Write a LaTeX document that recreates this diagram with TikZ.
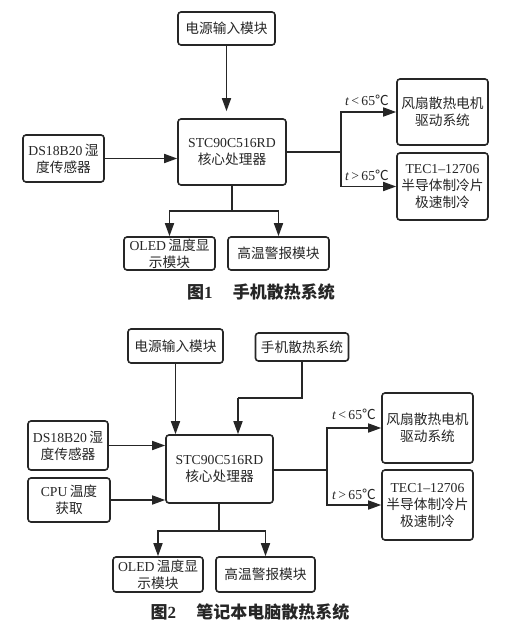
\documentclass[tikz,border=0pt]{standalone}
\usepackage{fontspec}
\setmainfont{Noto Sans CJK SC}
\newfontfamily\lat{Liberation Serif}
\usetikzlibrary{arrows.meta}
\newcommand\lt[1]{{\lat #1}}
\newcommand\tlabel[1]{{\lat\itshape t\/\upshape\,#1\,65}℃}
\definecolor{ink}{HTML}{262626}
\tikzset{
  box/.style={draw=ink, line width=1.6pt, rounded corners=3pt, inner sep=1pt,
    align=center, text=ink, font=\fontsize{13.7}{17}\selectfont},
  arr/.style={draw=ink, line width=1.6pt, -{Triangle[length=13pt,width=9pt]}},
  ln/.style={draw=ink, line width=1.6pt},
  lbl/.style={text=ink, font=\fontsize{13.7}{17}\selectfont, inner sep=0pt},
  captxt/.style={text=ink, font=\fontsize{17}{20}\selectfont\bfseries, inner sep=0pt}
}
\begin{document}
\begin{tikzpicture}[x=1pt,y=-1pt]
\useasboundingbox[fill=white] (0,0) rectangle (512,624);
% ---------- Figure 1 ----------
\node[box, minimum width=97pt, minimum height=33pt] (pw1) at (226.5,28.5) {电源输入模块};
\node[box, minimum width=108pt, minimum height=66pt] (core1) at (232,152) {\lt{STC90C516RD}\\核心处理器};
\node[box, minimum width=81pt, minimum height=47pt] (ds1) at (63.5,158.5) {\lt{DS18B20\,}湿\\度传感器};
\node[box, minimum width=91pt, minimum height=66pt] (fan1) at (442.5,112) {风扇散热电机\\驱动系统};
\node[box, minimum width=91pt, minimum height=67pt] (tec1) at (442.5,186.5) {\lt{TEC1–12706}\\半导体制冷片\\极速制冷};
\node[box, minimum width=91pt, minimum height=33pt] (oled1) at (169.5,253.5) {\lt{OLED\,}温度显\\示模块};
\node[box, minimum width=101pt, minimum height=33pt] (al1) at (278.5,253.5) {高温警报模块};
\coordinate (j1) at (341,152);
\coordinate (j2) at (232,211);
\draw[arr, shorten >=7pt] (pw1.south) -- (pw1.south |- core1.north);
\draw[arr] (ds1.east) -- (ds1.east -| core1.west);
\draw[ln] (core1.east) -- (j1);
\draw[arr] (j1) |- (fan1.west);
\draw[arr] (j1) |- (tec1.west);
\draw[ln] (core1.south) -- (j2);
\draw[arr] (j2) -| (oled1.north);
\draw[arr] (j2) -| (al1.north);
\node[lbl] (l11) at (367,100) {\tlabel{<}};
\node[lbl] (l12) at (367,175) {\tlabel{>}};
\node[captxt] (cap1) at (261,292) {图\lt{1}\hspace{1.2em}手机散热系统};
% ---------- Figure 2 ----------
\node[box, minimum width=95pt, minimum height=34pt] (pw2) at (175.5,346) {电源输入模块};
\node[box, minimum width=93pt, minimum height=28pt] (hs2) at (302,347) {手机散热系统};
\node[box, minimum width=107pt, minimum height=68pt] (core2) at (219.5,469) {\lt{STC90C516RD}\\核心处理器};
\node[box, minimum width=80pt, minimum height=49pt] (ds2) at (68,445.5) {\lt{DS18B20\,}湿\\度传感器};
\node[box, minimum width=82pt, minimum height=44pt] (cpu2) at (69,500) {\lt{CPU\,}温度\\获取};
\node[box, minimum width=91pt, minimum height=70pt] (fan2) at (427.5,428) {风扇散热电机\\驱动系统};
\node[box, minimum width=91pt, minimum height=70pt] (tec2) at (427.5,505) {\lt{TEC1–12706}\\半导体制冷片\\极速制冷};
\node[box, minimum width=90pt, minimum height=35pt] (oled2) at (158,574.5) {\lt{OLED\,}温度显\\示模块};
\node[box, minimum width=99pt, minimum height=35pt] (al2) at (265.5,574.5) {高温警报模块};
\coordinate (k2) at (238,398);
\coordinate (j3) at (327,470);
\coordinate (j4) at (219,531);
\draw[arr] (pw2.south) -- (pw2.south |- core2.north);
\draw[ln] (hs2.south) -- (hs2.south |- k2) -- (k2);
\draw[arr] (k2) -- (k2 |- core2.north);
\draw[arr] (ds2.east) -- (ds2.east -| core2.west);
\draw[arr] (cpu2.east) -- (cpu2.east -| core2.west);
\draw[ln] (j3 -| core2.east) -- (j3);
\draw[arr] (j3) |- (fan2.west);
\draw[arr] (j3) |- (tec2.west);
\draw[ln] (core2.south -| j4) -- (j4);
\draw[arr] (j4) -| (oled2.north);
\draw[arr] (j4) -| (al2.north);
\node[lbl] (l21) at (354,414) {\tlabel{<}};
\node[lbl] (l22) at (354,494) {\tlabel{>}};
\node[captxt] (cap2) at (250,612) {图\lt{2}\hspace{1.2em}笔记本电脑散热系统};
\end{tikzpicture}
\end{document}
